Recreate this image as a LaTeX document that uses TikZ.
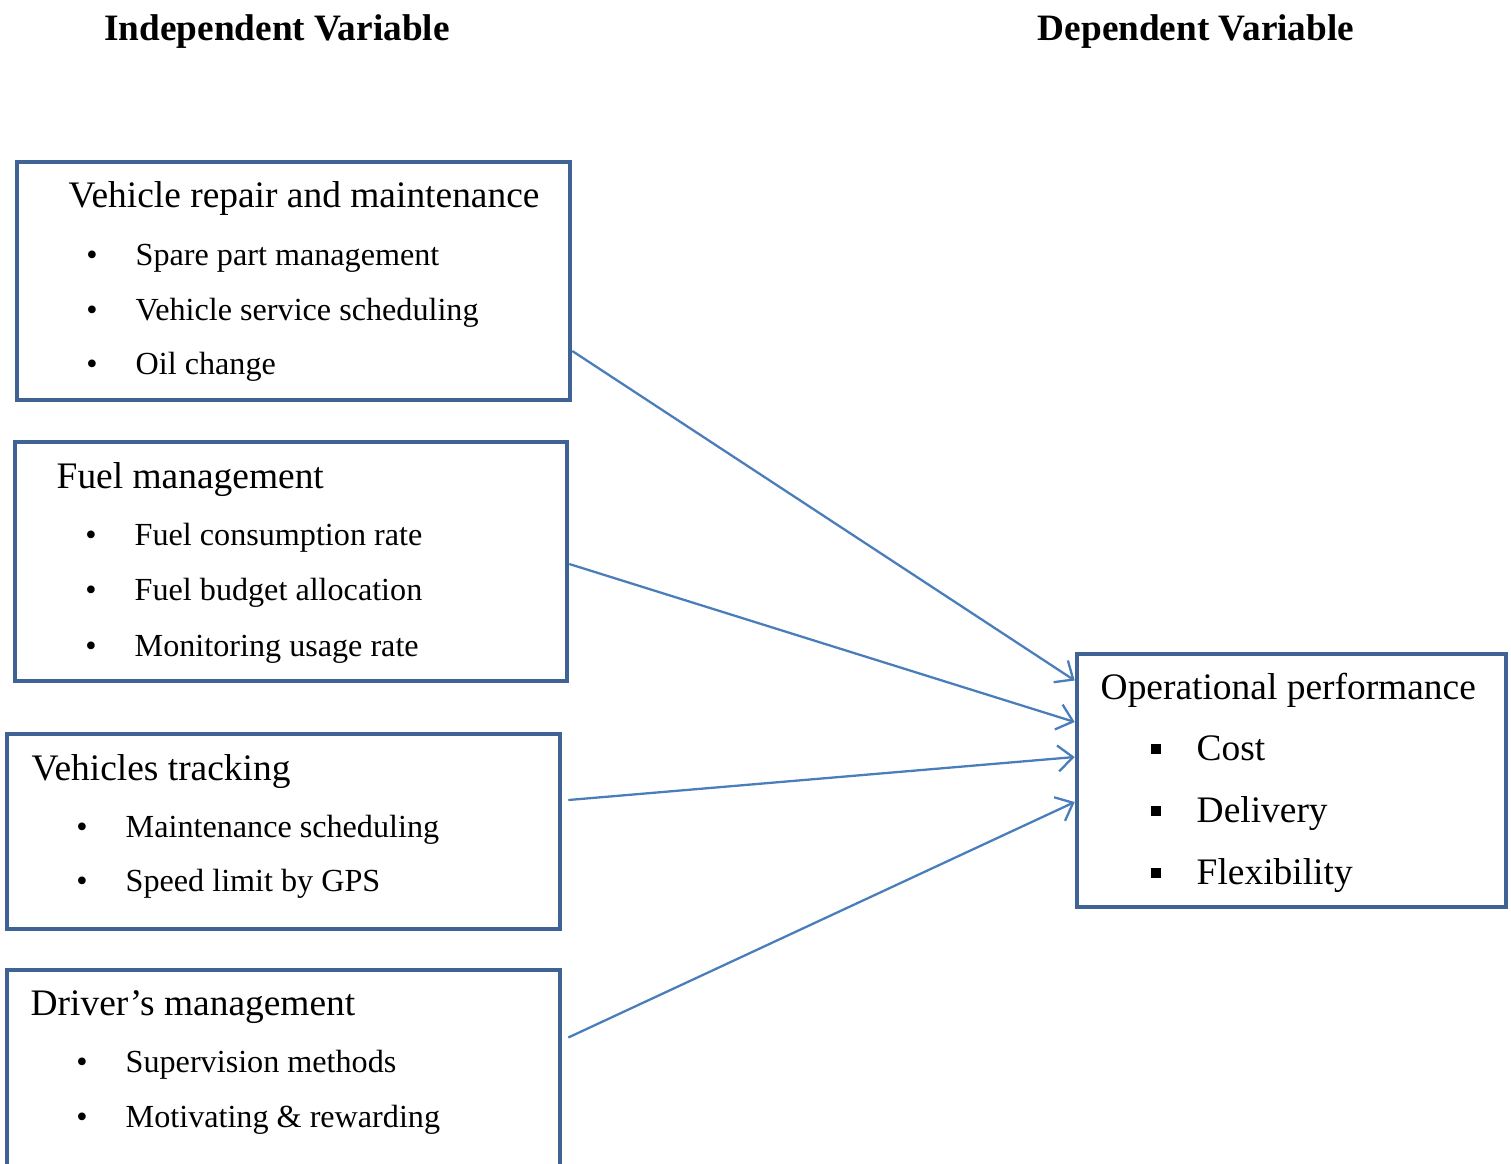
\documentclass[tikz,border=0pt]{standalone}
\usepackage{fontspec}
\setmainfont{Liberation Serif}
\usetikzlibrary{positioning,arrows.meta,calc}
\definecolor{boxblue}{HTML}{3E6394}
\definecolor{lineblue}{HTML}{4A7EBB}
\tikzset{
    box/.style = {
        draw=boxblue,
        shape=rectangle,
        line width=1.3pt
    },
    head/.style = {
        anchor=base,
        inner sep=0pt,
        font=\fontsize{10.6}{12}\selectfont\bfseries
    },
    title/.style = {
        anchor=base west,
        inner sep=0pt,
        font=\fontsize{10.65}{12}\selectfont
    },
    item/.style = {
        anchor=base west,
        inner sep=0pt,
        font=\fontsize{9.15}{11}\selectfont
    },
    dot/.style = {
        anchor=base,
        inner sep=0pt,
        font=\fontsize{9.15}{11}\selectfont
    },
    sqdot/.style = {
        fill=black,
        shape=rectangle,
        inner sep=0pt,
        minimum size=0.1cm
    },
    link/.style = {
        draw=lineblue,
        line width=0.65pt,
        ->
    },
    >={Straight Barb[length=1.5mm,width=2.6mm]},
}

\begin{document}
\begin{tikzpicture}
    \useasboundingbox (0,0) rectangle (15.11,-11.63);
    \clip (0,0) rectangle (15.11,-11.63);

    \node[head] (indep) at (2.77,-0.40) {Independent Variable};
    \node[head] (dep) at (11.96,-0.40) {Dependent Variable};

    \node[box, minimum width=5.53cm, minimum height=2.38cm] (repair) at (2.935,-2.81) {};
    \node[box, minimum width=5.52cm, minimum height=2.39cm] (fuel) at (2.91,-5.615) {};
    \node[box, minimum width=5.53cm, minimum height=1.95cm] (track) at (2.835,-8.315) {};
    \node[box, minimum width=5.53cm, minimum height=2.05cm] (driver) at (2.835,-10.725) {};
    \node[box, minimum width=4.29cm, minimum height=2.53cm] (perf) at (12.915,-7.805) {};

    % vehicle repair
    \node[title] (repairT) at (0.68,-2.07) {Vehicle repair and maintenance};
    \node[dot] (repairB1) at (0.92,-2.65) {•};
    \node[dot] (repairB2) at (0.92,-3.20) {•};
    \node[dot] (repairB3) at (0.92,-3.74) {•};
    \node[item] (repairI1) at (1.35,-2.65) {Spare part management};
    \node[item] (repairI2) at (1.35,-3.20) {Vehicle service scheduling};
    \node[item] (repairI3) at (1.35,-3.74) {Oil change};

    % fuel
    \node[title] (fuelT) at (0.56,-4.88) {Fuel management};
    \node[dot] (fuelB1) at (0.91,-5.45) {•};
    \node[dot] (fuelB2) at (0.91,-6.00) {•};
    \node[dot] (fuelB3) at (0.91,-6.56) {•};
    \node[item] (fuelI1) at (1.34,-5.45) {Fuel consumption rate};
    \node[item] (fuelI2) at (1.34,-6.00) {Fuel budget allocation};
    \node[item] (fuelI3) at (1.34,-6.56) {Monitoring usage rate};

    % tracking
    \node[title] (trackT) at (0.31,-7.80) {Vehicles tracking};
    \node[dot] (trackB1) at (0.82,-8.37) {•};
    \node[dot] (trackB2) at (0.82,-8.91) {•};
    \node[item] (trackI1) at (1.25,-8.37) {Maintenance scheduling};
    \node[item] (trackI2) at (1.25,-8.91) {Speed limit by GPS};

    % driver
    \node[title] (driverT) at (0.30,-10.15) {Driver’s management};
    \node[dot] (driverB1) at (0.82,-10.72) {•};
    \node[dot] (driverB2) at (0.82,-11.27) {•};
    \node[item] (driverI1) at (1.25,-10.72) {Supervision methods};
    \node[item] (driverI2) at (1.25,-11.27) {Motivating \& rewarding};

    % operational performance
    \node[title] (perfT) at (11.00,-6.99) {Operational performance};
    \node[sqdot] (perfB1) at (11.56,-7.49) {};
    \node[sqdot] (perfB2) at (11.56,-8.11) {};
    \node[sqdot] (perfB3) at (11.56,-8.73) {};
    \node[title] (perfI1) at (11.96,-7.60) {Cost};
    \node[title] (perfI2) at (11.96,-8.22) {Delivery};
    \node[title] (perfI3) at (11.96,-8.84) {Flexibility};

    \path[link] ([yshift=-7mm]repair.east) -- ([yshift=10mm]perf.west);
    \path[link] ([yshift=-0.25mm]fuel.east) -- ([yshift=5.85mm]perf.west);
    \path[link] ([xshift=0.6mm,yshift=3.15mm]track.east) -- ([yshift=2.35mm]perf.west);
    \path[link] ([xshift=0.6mm,yshift=3.5mm]driver.east) -- ([yshift=-2.15mm]perf.west);
\end{tikzpicture}
\end{document}
